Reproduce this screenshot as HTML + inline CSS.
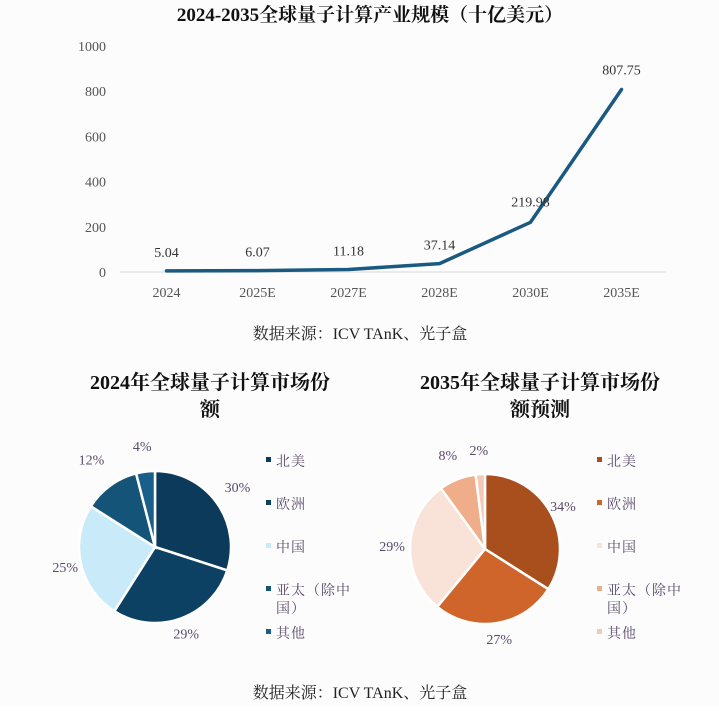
<!DOCTYPE html>
<html><head><meta charset="utf-8">
<style>
body{margin:0;background:#fff;width:719px;height:706px;overflow:hidden}
svg text{font-family:"Liberation Serif","Noto Serif CJK SC",serif}
</style></head><body>
<svg id="chart" width="719" height="706" viewBox="0 0 719 706" xmlns="http://www.w3.org/2000/svg">
<rect x="0" y="0" width="719" height="706" fill="#fcfcfd"/>
<text x="370" y="21" text-anchor="middle" font-size="19" font-weight="bold" fill="#111">2024-2035全球量子计算产业规模（十亿美元）</text>
<g id="line"></g>
<text x="360" y="339" text-anchor="middle" font-size="16" fill="#222">数据来源：ICV TAnK、光子盒</text>
<text x="210" y="389" text-anchor="middle" font-size="20" font-weight="bold" fill="#111">2024年全球量子计算市场份</text>
<text x="210" y="416" text-anchor="middle" font-size="20" font-weight="bold" fill="#111">额</text>
<text x="540" y="389" text-anchor="middle" font-size="20" font-weight="bold" fill="#111">2035年全球量子计算市场份</text>
<text x="540" y="416" text-anchor="middle" font-size="20" font-weight="bold" fill="#111">额预测</text>
<g id="pie1"></g>
<g id="pie2"></g>
<text x="360" y="698" text-anchor="middle" font-size="16" fill="#222">数据来源：ICV TAnK、光子盒</text>
</svg>
<script>
const categories=["2024","2025E","2027E","2028E","2030E","2035E"];
const values=[5.04,6.07,11.18,37.14,219.98,807.75];
const valueLabels=["5.04","6.07","11.18","37.14","219.98","807.75"];
const yTicks=[0,200,400,600,800,1000];
const regions=["北美","欧洲","中国","亚太（除中国）","其他"];
const share2024=[30,29,25,12,4];
const share2035=[34,27,29,8,2];
const NS="http://www.w3.org/2000/svg";
function mk(tag,attrs,parent,txt){const e=document.createElementNS(NS,tag);for(const k in attrs)e.setAttribute(k,attrs[k]);if(txt!==undefined)e.textContent=txt;parent.appendChild(e);return e;}
const xL=120,xR=666,y0=272,yMax=1000,yTop=46;
const band=(xR-xL)/categories.length;
const xS=i=>xL+band*(i+0.5)+1;
const yS=v=>y0-(v/yMax)*(y0-yTop);
const g=document.getElementById('line');
const axis=mk('line',{x1:xL,x2:xR,y1:y0,y2:y0,stroke:'#e1e4ea','stroke-width':1.5},g);


yTicks.forEach(t=>{
  const tx=mk('text',{x:106,y:yS(t)+5,'text-anchor':'end','font-size':14,fill:'#555'},g,String(t));
  
  
});
categories.forEach((c,i)=>{
  const tx=mk('text',{x:xS(i),y:297,'text-anchor':'middle','font-size':14,fill:'#555'},g,c);
  
  
});
const pts=values.map((v,i)=>xS(i)+','+yS(v)).join(' ');
const pl=mk('polyline',{points:pts,fill:'none',stroke:'#1b5a80','stroke-width':3.5,'stroke-linejoin':'round','stroke-linecap':'round'},g);


values.forEach((v,i)=>{
  const tx=mk('text',{x:xS(i),y:yS(v)-(i===5?15:i===4?16:14),'text-anchor':'middle','font-size':14,fill:'#333'},g,valueLabels[i]);
  
  
});
function pie(id,data,colors,cx,cy,r,labelPos,legX,legColors){
  const p=document.getElementById(id);
  const tot=data.reduce((a,b)=>a+b,0);
  let a=-Math.PI/2;
  data.forEach((d,i)=>{
    const a2=a+d/tot*Math.PI*2;
    const x1=cx+r*Math.cos(a),y1=cy+r*Math.sin(a),x2=cx+r*Math.cos(a2),y2=cy+r*Math.sin(a2);
    const large=(a2-a)>Math.PI?1:0;
    const s=mk('path',{d:`M${cx},${cy}L${x1},${y1}A${r},${r} 0 ${large} 1 ${x2},${y2}Z`,fill:colors[i],stroke:'#fff','stroke-width':2.5},p);
    
    
    const mid=(a+a2)/2;
    const lr=r+labelPos[i];
    const tx=mk('text',{x:cx+lr*Math.cos(mid),y:cy+lr*Math.sin(mid)+5,'text-anchor':'middle','font-size':14,fill:'#5a4a6a'},p,d+'%');
    
    
    a=a2;
  });
  const ly=[461,504,547,590,633];
  regions.forEach((n,i)=>{
    const sq=mk('rect',{x:legX,y:ly[i]-4,width:5,height:5,fill:legColors[i]},p);
    
    
    if(i===3){
      const t1=mk('text',{x:legX+10,y:ly[i]+5,'font-size':14,fill:'#5a4a6a','letter-spacing':1},p,'亚太（除中');
      
      
      const t2=mk('text',{x:legX+10,y:ly[i]+23,'font-size':14,fill:'#5a4a6a','letter-spacing':1},p,'国）');
      
      
    } else {
      const t=mk('text',{x:legX+10,y:ly[i]+5,'font-size':14,fill:'#5a4a6a','letter-spacing':1},p,n);
      
      
    }
  });
}
pie('pie1',share2024,['#0b3a5a','#0d4163','#c9eaf9','#135478','#1a5f8a'],155,547,76,[26,16,16,32,26],266,['#0b3a5a','#0d4163','#c9eaf9','#135478','#1a5f8a']);
pie('pie2',share2035,['#a84f1d','#d0652b','#f9e2d7','#f0ad89','#f4c9b6'],485,549,75,[14,16,18,26,24],597,['#a84f1d','#d0652b','#f9e2d7','#f0ad89','#f4c9b6']);
</script>
</body></html>
